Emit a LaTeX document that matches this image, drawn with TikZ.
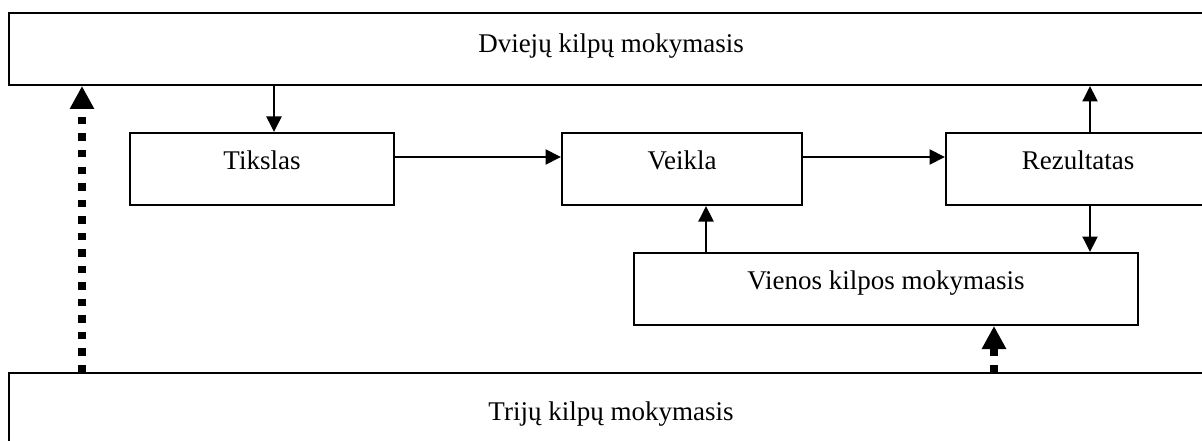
\documentclass[tikz,border=0pt]{standalone}
\usepackage{fontspec}
\setmainfont{Liberation Serif}
\usetikzlibrary{arrows.meta,positioning}
\tikzset{
  loopbox/.style={rectangle, draw=black, line width=2pt, inner sep=0pt,
                  minimum height=72pt, text height=36pt, text depth=36pt,
                  font=\fontsize{27}{32}\selectfont},
  widebox/.style={loopbox, minimum width=1204pt},
  arr/.style={-{Triangle[length=15.5pt,width=15pt]}, line width=2pt},
  dotarr/.style={-{Triangle[length=23pt,width=23pt]}, line width=7.7pt,
                 dash pattern=on 7.5pt off 9pt},
}
\begin{document}
\begin{tikzpicture}[x=1pt, y=-1pt]
  \useasboundingbox (0,0) rectangle (1202,441);
  \clip (0,0) rectangle (1202,441);
  \fill[white] (0,0) rectangle (1202,441);

  \node[widebox, text height=40pt, text depth=32pt] (dvi) at (611,49) {Dviejų kilpų mokymasis};
  \node[loopbox, minimum width=264pt] (tikslas) at (262,169) {Tikslas};
  \node[loopbox, minimum width=240pt, right=166pt of tikslas] (veikla) {Veikla};
  \node[loopbox, minimum width=264pt, right=142pt of veikla] (rez) {Rezultatas};
  \node[loopbox, minimum width=504pt] (vienos) at (886,289) {Vienos kilpos mokymasis};
  \node[widebox, text height=47pt, text depth=25pt] (triju) at (611,409) {Trijų kilpų mokymasis};

  \draw[arr] ([xshift=12pt]tikslas.north |- dvi.south) -- ([xshift=12pt]tikslas.north);
  \draw[arr] ([yshift=12pt]tikslas.east) -- ([yshift=12pt]veikla.west);
  \draw[arr] ([yshift=12pt]veikla.east) -- ([yshift=12pt]rez.west);
  \draw[arr] ([xshift=12pt]rez.north) -- ([xshift=12pt]rez.north |- dvi.south);
  \draw[arr] ([xshift=12pt]rez.south) -- ([xshift=12pt]rez.south |- vienos.north);
  \draw[arr] ([xshift=24pt]veikla.south |- vienos.north) -- ([xshift=24pt]veikla.south);

  \draw[dotarr] ([xshift=-529pt]triju.north) -- ([xshift=-529pt]triju.north |- dvi.south);
  \draw[dotarr] ([xshift=108pt]vienos.south |- triju.north) -- ([xshift=108pt]vienos.south);
\end{tikzpicture}
\end{document}
